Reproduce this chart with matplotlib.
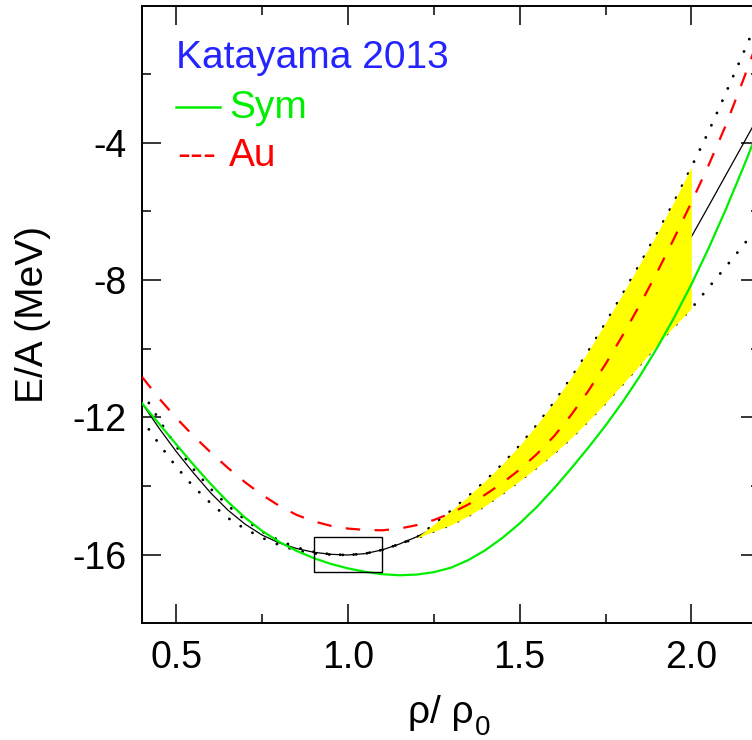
import numpy as np
import matplotlib
matplotlib.use("Agg")
import matplotlib.pyplot as plt
from matplotlib.patches import Rectangle
from matplotlib.lines import Line2D
from matplotlib.ticker import MultipleLocator, FixedLocator, FormatStrFormatter

plt.rcParams['font.family'] = ['Liberation Sans', 'DejaVu Sans']
plt.rcParams['axes.unicode_minus'] = False

# density grid (rho / rho0) for the three model curves
rho = [0.40, 0.45, 0.50, 0.55, 0.60, 0.65, 0.70, 0.75, 0.80, 0.85,
       0.90, 0.95, 1.00, 1.05, 1.10, 1.15, 1.20, 1.25, 1.30, 1.35,
       1.40, 1.45, 1.50, 1.55, 1.60, 1.65, 1.70, 1.75, 1.80, 1.85,
       1.90, 1.95, 2.00, 2.05, 2.10, 2.15, 2.20]

# symmetric nuclear matter (green, solid)
e_sym = [-11.59, -12.19, -12.79, -13.38, -13.94, -14.46, -14.92, -15.31, -15.63, -15.89,
         -16.10, -16.27, -16.40, -16.50, -16.57, -16.60, -16.58, -16.51, -16.38, -16.16,
         -15.87, -15.51, -15.09, -14.61, -14.07, -13.49, -12.88, -12.24, -11.55, -10.80,
         -9.98, -9.09, -8.13, -7.08, -5.95, -4.75, -3.50]

# Au-like asymmetric matter (red, dashed)
e_au = [-10.82, -11.45, -12.02, -12.54, -13.02, -13.47, -13.89, -14.26, -14.58, -14.84,
        -15.03, -15.16, -15.24, -15.28, -15.29, -15.24, -15.14, -14.99, -14.79, -14.54,
        -14.25, -13.91, -13.52, -13.07, -12.55, -11.93, -11.23, -10.45, -9.61, -8.72,
        -7.78, -6.78, -5.74, -4.66, -3.50, -2.20, -0.85]

# central curve (thin black)
e_mid = [-11.59, -12.32, -13.00, -13.62, -14.20, -14.70, -15.11, -15.43, -15.66, -15.82,
         -15.93, -15.99, -16.01, -15.97, -15.86, -15.69, -15.48, -15.23, -14.95, -14.63,
         -14.27, -13.87, -13.43, -12.95, -12.43, -11.87, -11.27, -10.63, -9.95, -9.23,
         -8.45, -7.62, -6.74, -5.85, -4.95, -4.05, -3.15]

# uncertainty bounds (dotted)
rho_b = [0.42, 0.45, 0.50, 0.55, 0.60, 0.65, 0.70, 0.75, 0.80, 0.85,
         0.90, 0.95, 1.00, 1.05, 1.10, 1.15, 1.20, 1.25, 1.30, 1.35,
         1.40, 1.45, 1.50, 1.55, 1.60, 1.65, 1.70, 1.75, 1.80, 1.85,
         1.90, 1.95, 2.00, 2.05, 2.10, 2.15, 2.20]
e_hi = [-11.58, -12.08, -12.85, -13.51, -14.08, -14.57, -14.98, -15.33, -15.59, -15.79,
        -15.92, -15.99, -16.01, -15.97, -15.86, -15.69, -15.50, -15.12, -14.72, -14.30,
        -13.85, -13.36, -12.82, -12.22, -11.56, -10.84, -10.07, -9.25, -8.40, -7.53,
        -6.64, -5.71, -4.71, -3.68, -2.56, -1.42, -0.25]
e_lo = [-12.35, -12.78, -13.44, -14.02, -14.50, -14.93, -15.25, -15.51, -15.72, -15.88,
        -15.96, -16.00, -16.01, -15.97, -15.86, -15.69, -15.52, -15.32, -15.13, -14.87,
        -14.57, -14.22, -13.85, -13.46, -13.05, -12.60, -12.10, -11.58, -11.03, -10.47,
        -9.88, -9.35, -8.83, -8.22, -7.62, -7.00, -6.38]

# shaded constraint region limits in density
band_range = [1.20, 2.00]

# saturation box
box_rho = [0.90, 1.10]
box_e = [-16.5, -15.5]

x_ticks = [0.5, 1.0, 1.5, 2.0]
y_ticks = [-16, -12, -8, -4]

GREEN = '#00ee00'
RED = '#ff0000'
BLUE = '#2424ff'

fig = plt.figure(figsize=(7.52, 7.40), dpi=100)
ax = fig.add_axes([142 / 752, (740 - 623.3) / 740, 618 / 752, 617.8 / 740])

rb = np.array(rho_b)
hi = np.array(e_hi)
lo = np.array(e_lo)

ax.plot(rho, e_mid, color='black', lw=0.9, zorder=2)

dot_kw = dict(color='black', lw=2.1, linestyle=(0, (0.01, 4.6)),
              dash_capstyle='round', zorder=3)
ax.plot(rb, hi, **dot_kw)
ax.plot(rb, lo, **dot_kw)

mask = (rb >= band_range[0] - 1e-9) & (rb <= band_range[1] + 1e-9)
ax.fill_between(rb[mask], lo[mask], hi[mask], color='#ffff00', lw=0, zorder=4)

ax.plot(rho, e_au, color=RED, lw=1.6, linestyle=(0, (6.5, 6.5)), zorder=5)
ax.plot(rho, e_sym, color=GREEN, lw=1.6, zorder=6)

ax.add_patch(Rectangle((box_rho[0], box_e[0]), box_rho[1] - box_rho[0],
                       box_e[1] - box_e[0], fill=False, edgecolor='black',
                       lw=1.0, zorder=7))

ax.set_xlim(0.4, 2.2)
ax.set_ylim(-18, 0)
ax.xaxis.set_major_locator(FixedLocator(x_ticks))
ax.xaxis.set_minor_locator(MultipleLocator(0.25))
ax.xaxis.set_major_formatter(FormatStrFormatter('%.1f'))
ax.yaxis.set_major_locator(FixedLocator(y_ticks))
ax.yaxis.set_minor_locator(FixedLocator([-14, -10, -6, -2]))

for s in ax.spines.values():
    s.set_linewidth(1.4)
ax.tick_params(which='both', direction='in', top=True, right=True, width=1.1,
               labelsize=27)
ax.tick_params(which='major', length=13.8)
ax.tick_params(which='minor', length=6.8)
ax.tick_params(axis='x', which='major', pad=12)
ax.tick_params(axis='y', which='major', pad=11)

ax.set_ylabel('E/A (MeV)', fontsize=28)
ax.yaxis.set_label_coords(-0.148, 0.5)

ax.text(0.537, -0.161, 'ρ/ ρ', transform=ax.transAxes, ha='right',
        va='baseline', fontsize=28)
ax.text(0.538, -0.181, '0', transform=ax.transAxes, ha='left',
        va='baseline', fontsize=20)

ax.text(0.055, 0.899, 'Katayama 2013', transform=ax.transAxes, color=BLUE,
        fontsize=28, va='baseline', ha='left')
ax.add_line(Line2D([0.055, 0.126], [0.8357, 0.8357], transform=ax.transAxes,
                   color=GREEN, lw=1.8))
ax.text(0.141, 0.818, 'Sym', transform=ax.transAxes, color=GREEN,
        fontsize=28, va='baseline', ha='left')
ax.text(0.0575, 0.740, '---', transform=ax.transAxes, color=RED,
        fontsize=28, va='baseline', ha='left')
ax.text(0.141, 0.740, 'Au', transform=ax.transAxes, color=RED,
        fontsize=28, va='baseline', ha='left')

fig.savefig('out.png', dpi=100)
